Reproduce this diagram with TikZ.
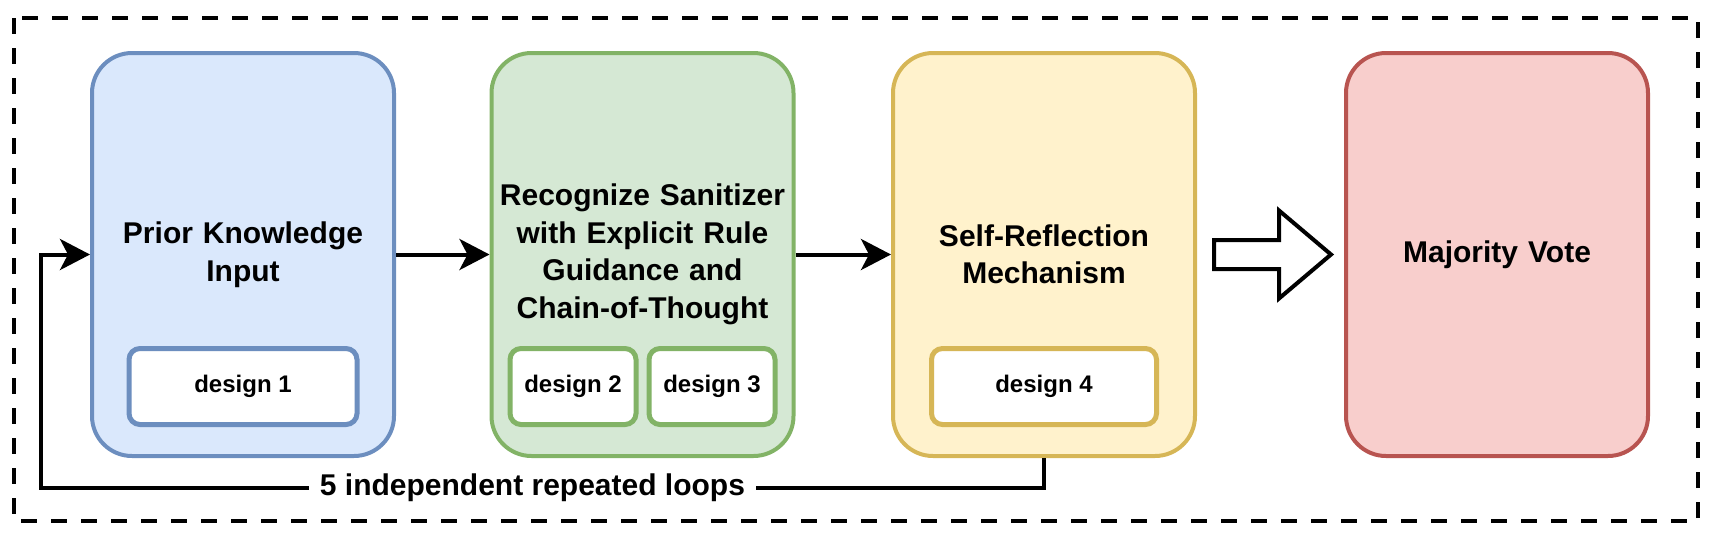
\documentclass[tikz,border=0pt]{standalone}
\usepackage{fontspec}
\setmainfont{Liberation Sans}
\usetikzlibrary{positioning,arrows.meta}

\definecolor{BlueFill}{HTML}{DAE8FC}
\definecolor{BlueLine}{HTML}{6C8EBF}
\definecolor{GreenFill}{HTML}{D5E8D4}
\definecolor{GreenLine}{HTML}{82B366}
\definecolor{YellowFill}{HTML}{FFF2CC}
\definecolor{YellowLine}{HTML}{D6B656}
\definecolor{RedFill}{HTML}{F8CECC}
\definecolor{RedLine}{HTML}{B85450}

\tikzset{
    stage/.style={draw, line width=2pt, rounded corners=20pt,
        minimum width=151pt, minimum height=201.5pt, text width=144pt,
        align=center, font=\fontsize{15pt}{18.75pt}\selectfont\bfseries},
    designbox/.style={draw, fill=white, line width=2.5pt, rounded corners=5.5pt,
        minimum height=38pt, font=\fontsize{12pt}{14pt}\selectfont\bfseries},
    flow/.style={line width=2pt, -{Stealth[length=15pt, width=15.5pt, inset=4pt]}},
}

\begin{document}
\begin{tikzpicture}

    \useasboundingbox (0,0) rectangle (860.5pt,-268.5pt);
    \draw[line width=2pt, dash pattern=on 8pt off 7pt] (7pt,-9pt) rectangle (849pt,-260.5pt);

    % the four stages
    \node[stage, fill=BlueFill, draw=BlueLine] (prior) at (121.5pt,-127.25pt) {Prior Knowledge\\Input};
    \node[stage, fill=GreenFill, draw=GreenLine, right=46.75pt of prior] (recog)
        {Recognize Sanitizer\\with Explicit Rule\\Guidance and\\Chain-of-Thought};
    \node[stage, fill=YellowFill, draw=YellowLine, right=47.75pt of recog] (reflect) {Self-Reflection\\Mechanism};
    \node[stage, fill=RedFill, draw=RedLine, right=73.5pt of reflect] (vote) {Majority Vote};

    \node[designbox, draw=BlueLine, minimum width=114pt, above=15.5pt of prior.south] (design1) {design 1};
    \node[designbox, draw=GreenLine, minimum width=63pt, above=15.5pt of recog.south, xshift=-34.75pt] (design2) {design 2};
    \node[designbox, draw=GreenLine, minimum width=63pt, above=15.5pt of recog.south, xshift=34.75pt] (design3) {design 3};
    \node[designbox, draw=YellowLine, minimum width=112.5pt, above=15.5pt of reflect.south] (design4) {design 4};

    \draw[flow] (prior) -- (recog);
    \draw[flow] (recog) -- (reflect);

    % loop back to the start
    \coordinate[left=24.5pt of prior.west] (loopin);
    \draw[flow] (reflect.south) -- ++(0,-15pt)
        -| node[pos=0.255, fill=white, inner xsep=5.5pt, font=\fontsize{15pt}{18pt}\selectfont\bfseries] (looplabel)
        {5 independent repeated loops} (loopin) -- (prior.west);

    % hollow arrow to the vote
    \coordinate[right=8.5pt of reflect.east] (bigtail);
    \draw[line width=2pt] (bigtail) ++(0,7.25pt) -- ++(32.5pt,0) -- ++(0,14.75pt) -- ++(26pt,-22pt)
        -- ++(-26pt,-22pt) -- ++(0,14.75pt) -- ++(-32.5pt,0) -- cycle;

\end{tikzpicture}
\end{document}
